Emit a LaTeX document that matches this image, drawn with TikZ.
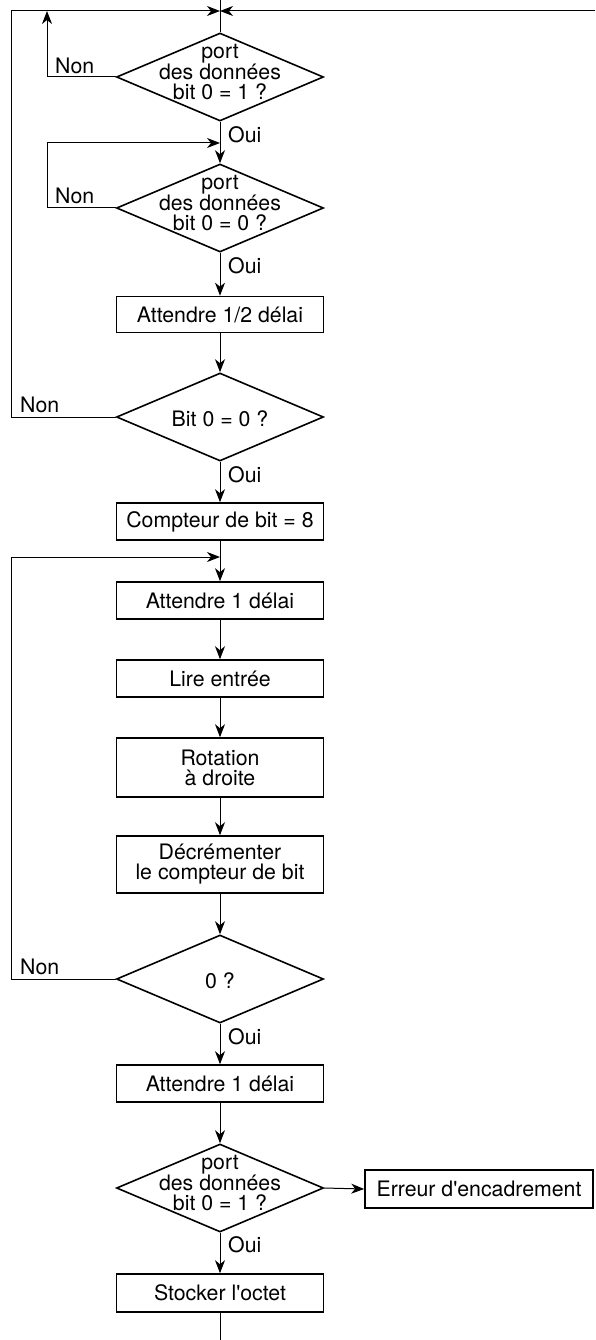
\documentclass[tikz,border=0pt]{standalone}
\usepackage{fontspec}
\setmainfont{TeX Gyre Heros}[Ligatures=TeXOff]
\usetikzlibrary{shapes.geometric,arrows.meta}

\begin{document}
\begin{tikzpicture}[x=1pt,y=-1pt,
  font=\fontsize{21.3}{20}\selectfont,
  box/.style={draw,line width=1.6pt,minimum width=207pt,minimum height=37pt,inner sep=0pt,align=center},
  decision/.style={draw,diamond,line width=1.6pt,minimum width=207pt,minimum height=88pt,inner sep=0pt},
  dtext/.style={align=center,inner sep=0pt},
  flow/.style={line width=1pt,-{Stealth[length=13pt,width=10pt,inset=4pt]}},
  line/.style={line width=1pt},
  lbl/.style={inner sep=0pt,anchor=west}]

\useasboundingbox (0,0) rectangle (595,1340);

% decisions and process steps
\node[decision] (d1) at (220,77) {};
\node[dtext] (d1t) at (220,72) {port\\des données\\bit 0 = 1 ?};
\node[decision] (d2) at (220,208) {};
\node[dtext] (d2t) at (220,203) {port\\des données\\bit 0 = 0 ?};
\node[box,minimum height=36pt] (b1) at (220,314.5) {Attendre 1/2 délai};
\node[decision] (d3) at (220,417) {};
\node[dtext] (d3t) at (220,419) {Bit 0 = 0 ?};
\node[box] (b2) at (220,521.5) {Compteur de bit = 8};
\node[box] (b3) at (220,600.5) {Attendre 1 délai};
\node[box] (b4) at (220,678.5) {Lire entrée};
\node[box,minimum height=59pt] (b5) at (220,767.5) {Rotation\\à droite};
\node[box,minimum height=57pt] (b6) at (220,864.5) {Décrémenter\\le compteur de bit};
\node[decision] (d4) at (220,979) {};
\node[dtext] (d4t) at (220,981) {0 ?};
\node[box] (b7) at (220,1083.5) {Attendre 1 délai};
\node[decision] (d5) at (220,1188) {};
\node[dtext] (d5t) at (220,1183) {port\\des données\\bit 0 = 1 ?};
\node[box,minimum width=228pt,minimum height=38pt] (err) at (479,1189) {Erreur d'encadrement};
\node[box,minimum height=38pt] (b8) at (220,1293) {Stocker l'octet};

% free ends and corners of the loops
\coordinate (top) at (220,0);
\coordinate (right) at (595,11);
\coordinate (join) at (220,11);
\coordinate (c1) at (11,11);
\coordinate (c2) at (47,11);
\coordinate (c3) at (47,143);
\coordinate (j2) at (220,143);
\coordinate (c4) at (11,557);
\coordinate (j3) at (220,557);
\coordinate (bottom) at (220,1340);

% connectors
\draw[line] (top) -- (d1.north);
\draw[flow] (right) -- (join);
\draw[flow] (d3.west) -| (c1) -- (join);
\draw[flow] (d1.west) -| (c2);
\draw[flow] (d1.south) -- (d2.north);
\draw[flow] (d2.west) -| (c3) -- (j2);
\draw[flow] (d2.south) -- (b1.north);
\draw[flow] (b1.south) -- (d3.north);
\draw[flow] (d3.south) -- (b2.north);
\draw[flow] (b2.south) -- (b3.north);
\draw[flow] (d4.west) -| (c4) -- (j3);
\draw[flow] (b3.south) -- (b4.north);
\draw[flow] (b4.south) -- (b5.north);
\draw[flow] (b5.south) -- (b6.north);
\draw[flow] (b6.south) -- (d4.north);
\draw[flow] (d4.south) -- (b7.north);
\draw[flow] (b7.south) -- (d5.north);
\draw[flow] (d5.east) -- (err.west);
\draw[flow] (d5.south) -- (b8.north);
\draw[line] (b8.south) -- (bottom);

% branch labels
\node[lbl] (n1) at (55,66) {Non};
\node[lbl] (n2) at (55,196) {Non};
\node[lbl] (n3) at (20,405) {Non};
\node[lbl] (n4) at (20,967) {Non};
\node[lbl] (o1) at (228,135) {Oui};
\node[lbl] (o2) at (228,266) {Oui};
\node[lbl] (o3) at (228,475) {Oui};
\node[lbl] (o4) at (228,1037) {Oui};
\node[lbl] (o5) at (228,1245) {Oui};
\end{tikzpicture}
\end{document}
